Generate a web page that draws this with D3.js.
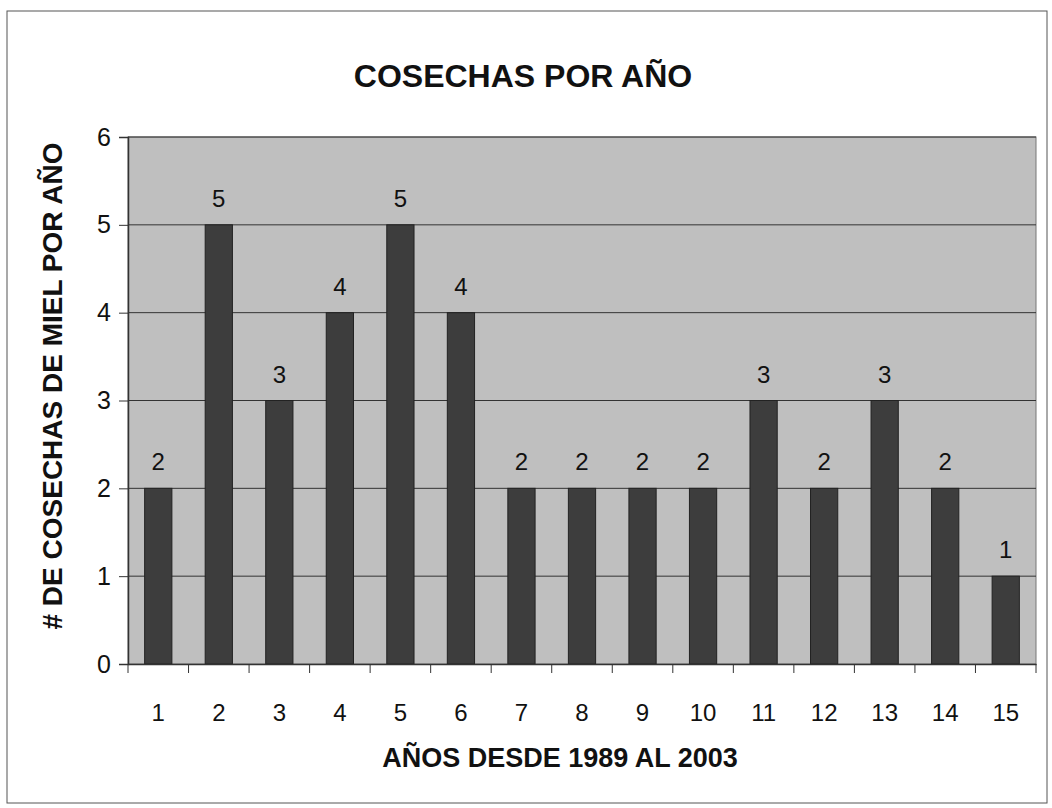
<!DOCTYPE html>
<html>
<head>
<meta charset="utf-8">
<script src="https://cdn.jsdelivr.net/npm/d3@7"></script>
<style>
  body { margin: 0; background: #fff; }
  text { font-family: "Liberation Sans", Arial, sans-serif; fill: #111; }
</style>
</head>
<body>
<div id="chart"></div>
<script>
const years = ['1', '2', '3', '4', '5', '6', '7', '8', '9', '10', '11', '12', '13', '14', '15'];
const harvests = [2, 5, 3, 4, 5, 4, 2, 2, 2, 2, 3, 2, 3, 2, 1];
const yTicks = [0, 1, 2, 3, 4, 5, 6];

const W = 1052, H = 808;
const m = { top: 137, right: 16, bottom: 144, left: 128 };
const w = W - m.left - m.right;
const h = H - m.top - m.bottom;

const svg = d3.select('#chart').append('svg')
  .attr('width', W)
  .attr('height', H);

// outer frame
svg.append('rect')
  .attr('x', 7).attr('y', 11)
  .attr('width', 1040).attr('height', 792)
  .attr('fill', 'none')
  .attr('stroke', '#555')
  .attr('stroke-width', 1);

const x = d3.scaleBand().domain(years).range([0, w]).paddingInner(0.55).paddingOuter(0.275);
const xb = d3.scaleBand().domain(years).range([0, w]);
const y = d3.scaleLinear().domain([0, 6]).range([h, 0]);

const g = svg.append('g').attr('transform', `translate(${m.left},${m.top})`);

g.append('rect')
  .attr('width', w).attr('height', h)
  .attr('fill', '#bfbfbf')
  .attr('stroke', '#777');

// gridlines
g.selectAll('.grid')
  .data(yTicks.slice(1))
  .enter()
  .append('line')
  .attr('x1', 0).attr('x2', w)
  .attr('y1', d => y(d)).attr('y2', d => y(d))
  .attr('stroke', '#333')
  .attr('stroke-width', 1);

g.selectAll('.bar')
  .data(harvests)
  .enter()
  .append('rect')
  .attr('x', (d, i) => x(years[i]))
  .attr('y', d => y(d))
  .attr('width', x.bandwidth())
  .attr('height', d => h - y(d))
  .attr('fill', '#3d3d3d')
  .attr('stroke', '#222');

g.selectAll('.lbl')
  .data(harvests)
  .enter()
  .append('text')
  .attr('x', (d, i) => x(years[i]) + x.bandwidth() / 2)
  .attr('y', d => y(d) - 18)
  .attr('text-anchor', 'middle')
  .style('font-size', '24px')
  .text(d => d);

// axes
const yAxis = g.append('g')
  .call(d3.axisLeft(y).tickValues(yTicks).tickFormat(d3.format('d')).tickSize(9).tickPadding(8));
const xAxis = g.append('g')
  .attr('transform', `translate(0,${h})`)
  .call(d3.axisBottom(xb).tickSize(0).tickPadding(40));

// ticks between categories
xAxis.selectAll('.sep')
  .data(years.concat(['end']))
  .enter()
  .append('line')
  .attr('x1', (d, i) => i * xb.step())
  .attr('x2', (d, i) => i * xb.step())
  .attr('y1', 0).attr('y2', 9)
  .attr('stroke', '#333');

[yAxis, xAxis].forEach(a => {
  a.select('.domain').attr('stroke', '#333').attr('stroke-width', 1.5);
  a.selectAll('.tick line').attr('stroke', '#333');
  a.selectAll('.tick text')
    .style('font-size', '25px')
    .style('font-family', '"Liberation Sans", Arial, sans-serif')
    .attr('fill', '#111');
});
xAxis.selectAll('.tick text').style('font-size', '24px');

svg.append('text')
  .attr('x', 523).attr('y', 87)
  .attr('text-anchor', 'middle')
  .style('font-size', '32px')
  .style('font-weight', 'bold')
  .text('COSECHAS POR AÑO');

svg.append('text')
  .attr('x', 560).attr('y', 767)
  .attr('text-anchor', 'middle')
  .style('font-size', '27px')
  .style('font-weight', 'bold')
  .text('AÑOS DESDE 1989 AL 2003');

svg.append('text')
  .attr('transform', 'translate(62,386) rotate(-90)')
  .attr('text-anchor', 'middle')
  .style('font-size', '28px')
  .style('font-weight', 'bold')
  .text('# DE COSECHAS DE MIEL POR AÑO');
</script>
</body>
</html>
